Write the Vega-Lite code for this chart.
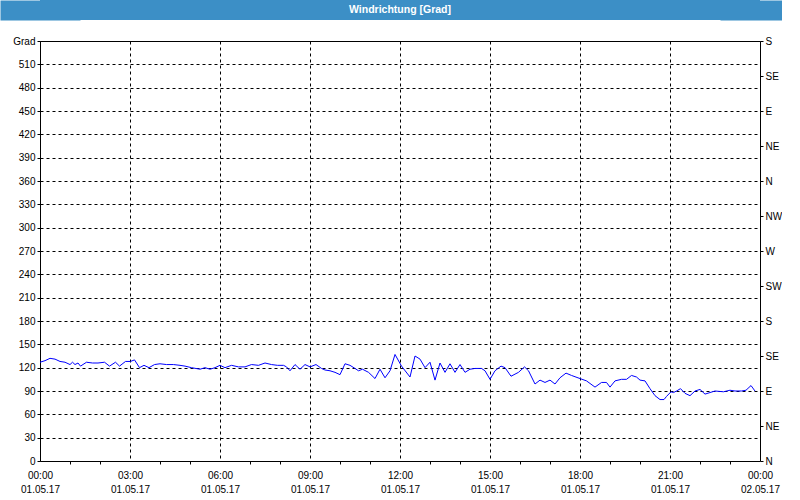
{
  "$schema": "https://vega.github.io/schema/vega-lite/v6.json",
  "padding": 0,
  "background": "white",
  "columns": 1,
  "spacing": 16,
  "config": {
    "font": "Liberation Sans",
    "view": {"stroke": null},
    "axis": {
      "labelFont": "Liberation Sans",
      "labelFontSize": 10,
      "labelColor": "black",
      "domainColor": "black",
      "tickColor": "black",
      "gridColor": "black",
      "gridDash": [3, 3],
      "gridOpacity": 1
    }
  },
  "concat": [
    {
      "width": 720,
      "height": 20,
      "data": {"values": [{"title": "Windrichtung [Grad]"}]},
      "resolve": {"axis": {"y": "independent"}},
      "layer": [
        {"mark": {"type": "rect", "color": "#3c8fc6"}, "encoding": {}},
        {
          "mark": {"type": "text", "color": "white", "fontWeight": "bold", "fontSize": 10.5, "font": "Liberation Sans", "baseline": "middle", "align": "center"},
          "encoding": {
            "text": {"field": "title", "type": "nominal"},
            "y": {"field": "title", "type": "nominal", "axis": {"orient": "left", "title": null, "labels": false, "ticks": false, "grid": false, "domain": true, "domainColor": "#3c8fc6", "domainWidth": 80, "domainCap": "butt"}}
          }
        },
        {
          "mark": {"type": "text", "color": "white", "fontWeight": "bold", "fontSize": 10.5, "font": "Liberation Sans", "baseline": "middle", "align": "center", "opacity": 0},
          "encoding": {
            "text": {"field": "title", "type": "nominal"},
            "y": {"field": "title", "type": "nominal", "axis": {"orient": "right", "title": null, "labels": false, "ticks": false, "grid": false, "domain": true, "domainColor": "#3c8fc6", "domainWidth": 80, "domainCap": "butt"}}
          }
        }
      ]
    },
    {
      "width": 720,
      "height": 420,
      "data": {"values": [
        {"m": 0, "v": 127}, {"m": 10, "v": 129}, {"m": 20, "v": 132}, {"m": 30, "v": 131}, {"m": 40, "v": 128}, {"m": 50, "v": 127},
        {"m": 60, "v": 124}, {"m": 65, "v": 127}, {"m": 70, "v": 124}, {"m": 76, "v": 126}, {"m": 81, "v": 122}, {"m": 93, "v": 127},
        {"m": 105, "v": 126}, {"m": 116, "v": 126}, {"m": 129, "v": 127}, {"m": 139, "v": 122}, {"m": 151, "v": 127}, {"m": 159, "v": 122},
        {"m": 171, "v": 128}, {"m": 181, "v": 128}, {"m": 189, "v": 130}, {"m": 199, "v": 120}, {"m": 208, "v": 123}, {"m": 218, "v": 120},
        {"m": 229, "v": 124}, {"m": 240, "v": 125}, {"m": 253, "v": 124}, {"m": 267, "v": 124}, {"m": 280, "v": 123}, {"m": 290, "v": 122},
        {"m": 303, "v": 120}, {"m": 320, "v": 118}, {"m": 330, "v": 120}, {"m": 340, "v": 118}, {"m": 350, "v": 120}, {"m": 360, "v": 123},
        {"m": 370, "v": 120}, {"m": 383, "v": 123}, {"m": 397, "v": 121}, {"m": 410, "v": 121}, {"m": 423, "v": 124}, {"m": 437, "v": 123},
        {"m": 450, "v": 126}, {"m": 463, "v": 124}, {"m": 475, "v": 123}, {"m": 487, "v": 123}, {"m": 493, "v": 121}, {"m": 500, "v": 116},
        {"m": 510, "v": 124}, {"m": 520, "v": 118}, {"m": 530, "v": 124}, {"m": 540, "v": 121}, {"m": 552, "v": 124}, {"m": 563, "v": 119},
        {"m": 570, "v": 117}, {"m": 580, "v": 116}, {"m": 590, "v": 114}, {"m": 600, "v": 111}, {"m": 610, "v": 125}, {"m": 620, "v": 123},
        {"m": 630, "v": 119}, {"m": 637, "v": 116}, {"m": 645, "v": 118}, {"m": 657, "v": 114}, {"m": 670, "v": 106}, {"m": 680, "v": 118},
        {"m": 690, "v": 107}, {"m": 700, "v": 116}, {"m": 710, "v": 137}, {"m": 723, "v": 122}, {"m": 740, "v": 108}, {"m": 750, "v": 135},
        {"m": 760, "v": 131}, {"m": 770, "v": 120}, {"m": 780, "v": 127}, {"m": 790, "v": 104}, {"m": 800, "v": 126}, {"m": 810, "v": 114},
        {"m": 820, "v": 125}, {"m": 830, "v": 114}, {"m": 840, "v": 124}, {"m": 850, "v": 114}, {"m": 860, "v": 118}, {"m": 870, "v": 119},
        {"m": 883, "v": 119}, {"m": 890, "v": 116}, {"m": 900, "v": 105}, {"m": 910, "v": 116}, {"m": 922, "v": 122}, {"m": 930, "v": 120},
        {"m": 942, "v": 109}, {"m": 957, "v": 114}, {"m": 969, "v": 121}, {"m": 977, "v": 116}, {"m": 990, "v": 99}, {"m": 1000, "v": 104},
        {"m": 1010, "v": 101}, {"m": 1020, "v": 104}, {"m": 1030, "v": 99}, {"m": 1040, "v": 107}, {"m": 1052, "v": 113}, {"m": 1063, "v": 110},
        {"m": 1080, "v": 106}, {"m": 1093, "v": 103}, {"m": 1110, "v": 95}, {"m": 1123, "v": 101}, {"m": 1133, "v": 101}, {"m": 1140, "v": 95},
        {"m": 1150, "v": 103}, {"m": 1163, "v": 105}, {"m": 1173, "v": 105}, {"m": 1183, "v": 110}, {"m": 1193, "v": 108}, {"m": 1200, "v": 104},
        {"m": 1210, "v": 103}, {"m": 1220, "v": 93}, {"m": 1230, "v": 84}, {"m": 1240, "v": 79}, {"m": 1248, "v": 79}, {"m": 1253, "v": 83},
        {"m": 1262, "v": 89}, {"m": 1267, "v": 88}, {"m": 1273, "v": 90}, {"m": 1281, "v": 93}, {"m": 1290, "v": 87}, {"m": 1300, "v": 84},
        {"m": 1310, "v": 90}, {"m": 1320, "v": 92}, {"m": 1330, "v": 86}, {"m": 1340, "v": 88}, {"m": 1350, "v": 90}, {"m": 1367, "v": 89},
        {"m": 1380, "v": 91}, {"m": 1390, "v": 90}, {"m": 1403, "v": 90}, {"m": 1412, "v": 91}, {"m": 1422, "v": 97}, {"m": 1430, "v": 90}
      ]},
      "resolve": {"axis": {"x": "independent", "y": "independent"}},
      "layer": [
        {
          "mark": {"type": "line", "color": "#0000ff", "strokeWidth": 1},
          "encoding": {
            "x": {
              "field": "m", "type": "quantitative",
              "scale": {"domain": [0, 1440], "nice": false, "zero": false},
              "axis": {
                "orient": "bottom",
                "title": null,
                "values": [0, 180, 360, 540, 720, 900, 1080, 1260, 1440],
                "grid": true,
                "ticks": false,
                "labelPadding": 9,
                "labelFlush": false,
                "labelOverlap": false,
                "labelExpr": "(floor(datum.value / 60) % 24 < 10 ? '0' : '') + (floor(datum.value / 60) % 24) + ':00'"
              }
            },
            "y": {
              "field": "v", "type": "quantitative",
              "scale": {"domain": [0, 540], "nice": false},
              "axis": {
                "orient": "left",
                "title": null,
                "values": [0, 30, 60, 90, 120, 150, 180, 210, 240, 270, 300, 330, 360, 390, 420, 450, 480, 510, 540],
                "grid": true,
                "tickSize": 3,
                "labelPadding": 2,
                "minExtent": 40,
                "labelFlush": false,
                "labelOverlap": false,
                "labelExpr": "datum.value == 540 ? 'Grad' : datum.label"
              }
            }
          }
        },
        {
          "mark": {"type": "line", "color": "#0000ff", "strokeWidth": 1, "opacity": 0},
          "encoding": {
            "x": {
              "field": "m", "type": "quantitative",
              "scale": {"domain": [0, 1440], "nice": false, "zero": false},
              "axis": {
                "orient": "bottom",
                "title": null,
                "values": [0, 180, 360, 540, 720, 900, 1080, 1260, 1440],
                "grid": false,
                "ticks": false,
                "domain": false,
                "labelPadding": 23,
                "labelFlush": false,
                "labelOverlap": false,
                "labelExpr": "datum.value == 1440 ? '02.05.17' : '01.05.17'"
              }
            },
            "y": {
              "field": "v", "type": "quantitative",
              "scale": {"domain": [0, 540], "nice": false},
              "axis": {
                "orient": "right",
                "title": null,
                "values": [0, 45, 90, 135, 180, 225, 270, 315, 360, 405, 450, 495, 540],
                "grid": false,
                "tickSize": 3,
                "labelPadding": 2,
                "labelFlush": false,
                "labelOverlap": false,
                "labelExpr": "['N','NE','E','SE','S','SW','W','NW','N','NE','E','SE','S'][round(datum.value / 45)]"
              }
            }
          }
        },
        {
          "mark": {"type": "line", "color": "#0000ff", "strokeWidth": 1, "opacity": 0},
          "encoding": {
            "x": {
              "field": "m", "type": "quantitative",
              "scale": {"domain": [0, 1440], "nice": false, "zero": false},
              "axis": {
                "orient": "bottom",
                "title": null,
                "values": [60, 120, 240, 300, 420, 480, 600, 660, 780, 840, 960, 1020, 1140, 1200, 1320, 1380],
                "grid": false,
                "domain": false,
                "labels": false,
                "tickSize": 3
              }
            },
            "y": {
              "field": "v", "type": "quantitative",
              "scale": {"domain": [0, 540], "nice": false},
              "axis": null
            }
          }
        },
        {
          "mark": {"type": "line", "color": "#0000ff", "strokeWidth": 1, "opacity": 0},
          "encoding": {
            "x": {
              "field": "m", "type": "quantitative",
              "scale": {"domain": [0, 1440], "nice": false, "zero": false},
              "axis": {
                "orient": "top",
                "title": null,
                "grid": false,
                "domain": true,
                "labels": false,
                "ticks": false
              }
            },
            "y": {
              "field": "v", "type": "quantitative",
              "scale": {"domain": [0, 540], "nice": false},
              "axis": null
            }
          }
        }
      ]
    }
  ]
}
